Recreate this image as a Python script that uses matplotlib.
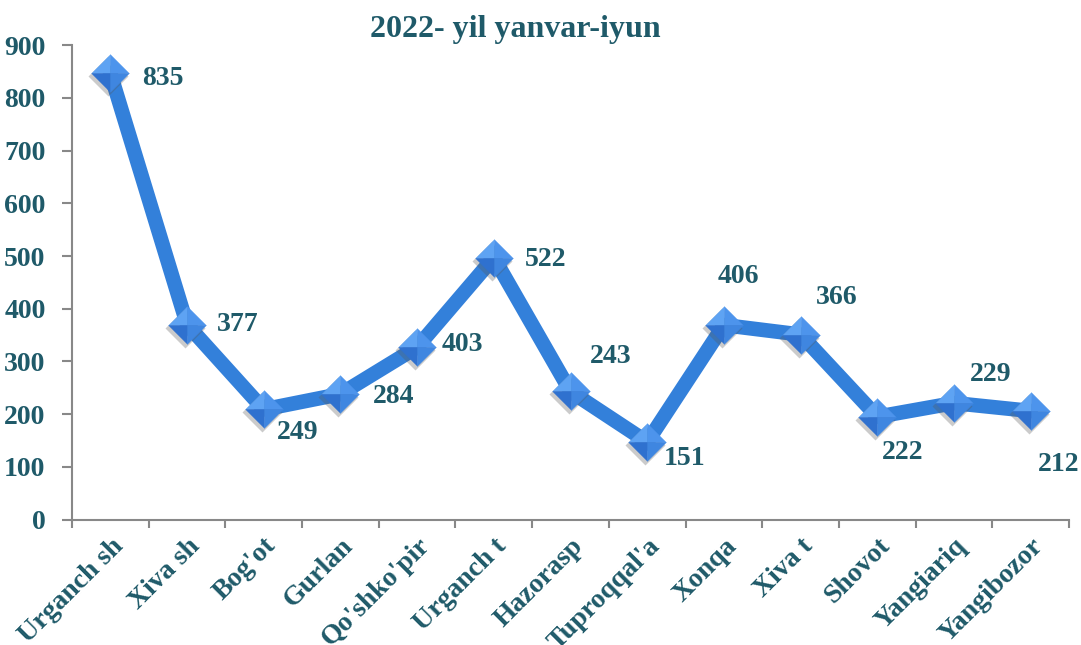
import matplotlib
matplotlib.use("Agg")
import matplotlib.pyplot as plt
from matplotlib import transforms
import numpy as np

# data
districts = ["Urganch sh", "Xiva sh", "Bog'ot", "Gurlan", "Qo'shko'pir",
             "Urganch t", "Hazorasp", "Tuproqqal'a", "Xonqa", "Xiva t",
             "Shovot", "Yangiariq", "Yangibozor"]
# heights of the plotted markers (as drawn)
plotted = [847, 370, 209, 238, 327, 497, 243, 147, 369, 351, 195, 221, 206]
# value labels printed next to the markers
labels = ["835", "377", "249", "284", "403", "522", "243", "151",
          "406", "366", "222", "229", "212"]
yticks = [0, 100, 200, 300, 400, 500, 600, 700, 800, 900]
title = "2022- yil yanvar-iyun"

# label offsets from marker centre, pixels (layout only)
label_off = [(53, -5), (51, 0), (34, -23), (53, -2), (45, 3), (52, -2),
             (40, 35), (37, -16), (14, 49), (36, 37), (25, -36), (37, 29),
             (28, -54)]

TXT = "#1f5a69"
LINE = "#3380da"
plt.rcParams['font.family'] = ['Liberation Serif', 'DejaVu Serif']
plt.rcParams['font.weight'] = 'bold'

fig = plt.figure(figsize=(10.81, 6.45), dpi=100)
ax = fig.add_axes([72/1081, 1-519.5/645, (1069-72)/1081, (519.5-45.3)/645])

x = np.arange(len(districts))
ax.plot(x, plotted, color=LINE, lw=10.5, solid_joinstyle='miter', zorder=2)

# shadow under the markers
shadow_tr = transforms.offset_copy(ax.transData, fig=fig, x=-2, y=-3, units='dots')
ax.plot(x, plotted, ls='none', marker='D', ms=20, color='#555555', alpha=0.3,
        mec='none', transform=shadow_tr, zorder=3)

# pyramid style diamond: four facets
facets = [
    ([(0, 0), (-1, 0), (0, 1), (0, 0)], '#5ea3f3'),  # top-left
    ([(0, 0), (0, 1), (1, 0), (0, 0)], '#4d94ec'),   # top-right
    ([(0, 0), (-1, 0), (0, -1), (0, 0)], '#2f71cf'), # bottom-left
    ([(0, 0), (0, -1), (1, 0), (0, 0)], '#3f86e0'),  # bottom-right
]
for verts, col in facets:
    ax.plot(x, plotted, ls='none', marker=verts, ms=27, color=col,
            mec=col, mew=0.3, zorder=4)

for xi, yi, lab, off in zip(x, plotted, labels, label_off):
    ax.annotate(lab, (xi, yi), xytext=off, textcoords='offset pixels',
                ha='center', va='center', fontsize=20, fontweight='bold',
                color=TXT, zorder=5)

ax.set_xlim(-0.5, len(districts) - 0.5)
ax.set_ylim(0, 900)
ax.set_yticks(yticks)
ax.set_yticklabels([str(t) for t in yticks])

ax.set_xticks(x)
ax.set_xticklabels(districts, rotation=45, ha='right', va='top',
                   rotation_mode='anchor')
ax.set_xticks(np.arange(len(districts) + 1) - 0.5, minor=True)
ax.tick_params(axis='x', which='major', length=0, pad=10, labelsize=20,
               labelcolor=TXT)
ax.tick_params(axis='x', which='minor', length=6, width=1.5, color='#888888')
ax.tick_params(axis='y', length=7, width=1.5, color='#888888', labelsize=20,
               labelcolor=TXT, pad=12)
for lab in ax.get_xticklabels() + ax.get_yticklabels():
    lab.set_fontweight('bold')

for s in ['top', 'right']:
    ax.spines[s].set_visible(False)
for s in ['left', 'bottom']:
    ax.spines[s].set_color('#888888')
    ax.spines[s].set_linewidth(1.5)

fig.text(515/1081, 1-29/645, title, ha='center', va='center', fontsize=23,
         fontweight='bold', color=TXT)

fig.savefig("out.png", dpi=100)
